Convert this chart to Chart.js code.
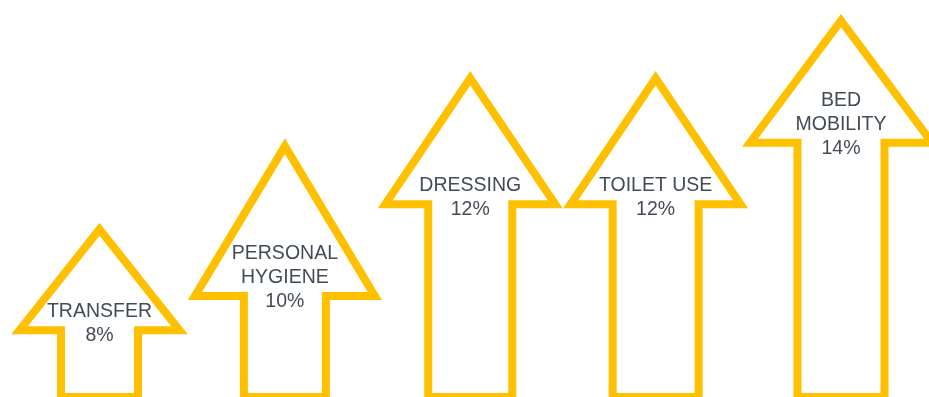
<!DOCTYPE html>
<html>
<head>
<meta charset="utf-8">
<script src="https://cdn.jsdelivr.net/npm/chart.js@4/dist/chart.umd.min.js"></script>
<style>
  html, body { margin: 0; padding: 0; background: #fff; }
  #arrows { display: block; }
</style>
</head>
<body>
<canvas id="arrows" width="929" height="397"></canvas>
<script>
// task categories and their share (%)
const categories = [["TRANSFER"], ["PERSONAL", "HYGIENE"], ["DRESSING"], ["TOILET USE"], ["BED", "MOBILITY"]];
const shares = [8, 10, 12, 12, 14];

// arrow shape per category (px): head half width, head length, stem half width
const headHalf = [80, 90, 85, 85, 91];
const headLen = [101, 150, 126, 126, 122];
const stemHalf = [38.5, 41, 42, 43, 43.5];

const gold = "#FFC000";
const textColor = "#434C56";

// draws each bar as an outlined arrow whose tip sits at the bar's value
const arrowPlugin = {
    id: "arrows",
    afterDatasetsDraw(chart) {
        const ctx = chart.ctx;
        const meta = chart.getDatasetMeta(0);
        const bottom = chart.chartArea.bottom;
        ctx.save();
        meta.data.forEach((bar, i) => {
            const x = bar.x;
            const tip = bar.y;
            const neck = tip + headLen[i];
            ctx.beginPath();
            ctx.moveTo(x, tip);
            ctx.lineTo(x + headHalf[i], neck);
            ctx.lineTo(x + stemHalf[i], neck);
            ctx.lineTo(x + stemHalf[i], bottom);
            ctx.lineTo(x - stemHalf[i], bottom);
            ctx.lineTo(x - stemHalf[i], neck);
            ctx.lineTo(x - headHalf[i], neck);
            ctx.closePath();
            ctx.fillStyle = "#ffffff";
            ctx.fill();
            ctx.lineWidth = 8;
            ctx.lineJoin = "miter";
            ctx.miterLimit = 10;
            ctx.strokeStyle = gold;
            ctx.stroke();

            // label lines, the last one being the value
            const lines = categories[i].concat([shares[i] + "%"]);
            ctx.fillStyle = textColor;
            ctx.font = "19.5px 'Liberation Sans', Arial, sans-serif";
            ctx.textAlign = "center";
            ctx.textBaseline = "alphabetic";
            let y = neck + 11 - (lines.length - 1) * 24;
            lines.forEach(line => {
                ctx.fillText(line, x, y);
                y += 24;
            });
        });
        ctx.restore();
    }
};

new Chart(document.getElementById("arrows"), {
    type: "bar",
    data: {
        labels: categories.map(c => c.join(" ")),
        datasets: [{
            data: shares,
            backgroundColor: "rgba(0,0,0,0)",
            borderWidth: 0
        }]
    },
    options: {
        responsive: false,
        animation: false,
        layout: { padding: { left: 99.5, right: 88, top: 0, bottom: 0 } },
        scales: {
            x: { display: false, offset: false },
            y: { display: false, type: "logarithmic", min: 5.1, max: 14.8, bounds: "data" }
        },
        plugins: {
            legend: { display: false },
            tooltip: { enabled: false }
        }
    },
    plugins: [arrowPlugin]
});
</script>
</body>
</html>
